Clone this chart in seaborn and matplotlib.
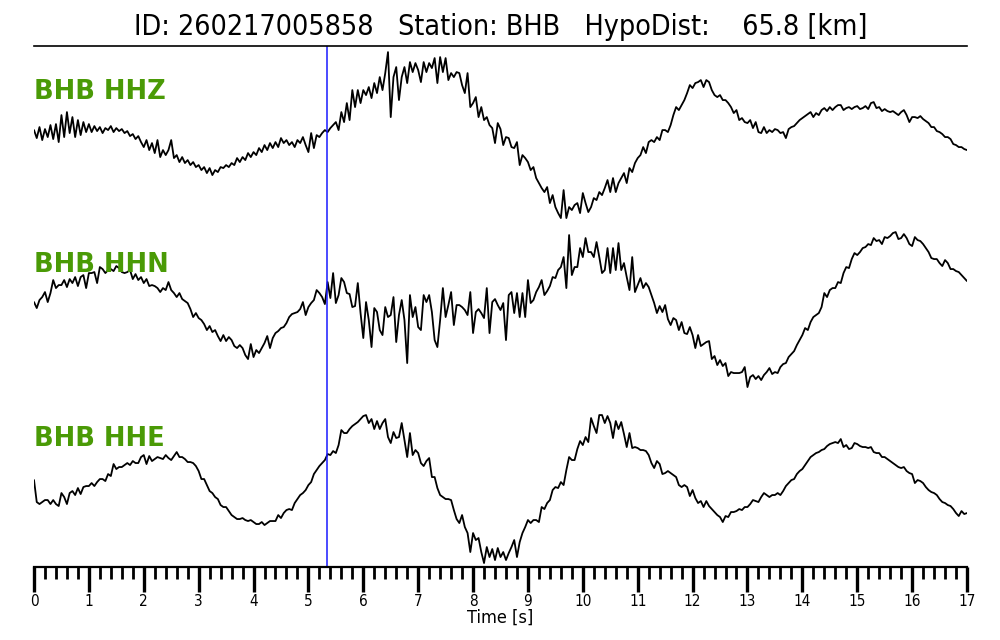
import numpy as np
import pandas as pd
import seaborn as sns
import matplotlib.pyplot as plt
from matplotlib.ticker import MultipleLocator

# waveform samples, dt = 0.05 s, amplitude in plot units
dt = 0.05
hhz = [4, -4, 7, -6, 5, -3, 9, -5, 10, -8,
       19, -3, 22, 1, 17, -3, 14, -1, 12, 2,
       10, 2, 8, 3, 7, 1, 6, 4, 8, 2,
       6, 3, 5, 1, 3, -2, 0, -5, -2, -8,
       -13, -6, -16, -9, -19, -6, -23, -16, -21, -16,
       -6, -24, -21, -28, -23, -29, -26, -31, -28, -33,
       -31, -36, -33, -39, -34, -41, -36, -38, -33, -34,
       -31, -33, -29, -31, -24, -28, -23, -26, -19, -23,
       -18, -21, -14, -18, -11, -16, -9, -14, -8, -13,
       -4, -9, -6, -11, -8, -13, -6, -9, -3, -11,
       -18, 1, -14, -1, -3, 1, 4, 2, 6, 9,
       12, 4, 22, 12, 31, 14, 44, 27, 44, 31,
       44, 39, 47, 36, 51, 41, 57, 44, 61, 82,
       17, 57, 67, 34, 57, 67, 51, 72, 62, 71,
       64, 52, 72, 62, 71, 66, 76, 51, 77, 62,
       76, 54, 61, 57, 62, 61, 49, 41, 61, 27,
       31, 37, 17, 27, 14, 17, 9, 6, -9, 11,
       5, -11, -3, -4, -13, -14, -8, -31, -21, -24,
       -28, -36, -33, -44, -49, -54, -58, -53, -69, -61,
       -73, -79, -84, -56, -84, -73, -76, -71, -69, -79,
       -59, -69, -78, -73, -64, -66, -58, -61, -54, -46,
       -58, -44, -58, -49, -44, -39, -49, -34, -38, -29,
       -24, -21, -13, -19, -8, -6, -8, -3, -6, 4,
       4, 2, 9, 19, 27, 24, 29, 34, 41, 49,
       46, 51, 52, 54, 47, 54, 52, 44, 39, 37,
       39, 34, 34, 31, 27, 21, 24, 14, 16, 12,
       11, 14, 6, 12, 2, 1, 7, 1, 4, 2,
       5, 4, 1, 2, -4, 5, 7, 8, 11, 14,
       16, 18, 20, 22, 17, 21, 19, 24, 26, 23,
       27, 24, 27, 29, 29, 24, 26, 27, 25, 27,
       28, 25, 26, 28, 25, 31, 32, 26, 27, 23,
       25, 23, 22, 23, 21, 19, 22, 24, 19, 12,
       17, 17, 16, 18, 15, 13, 11, 7, 7, 3,
       2, 0, -3, -3, -5, -10, -11, -13, -13, -15,
       -16]
hhn = [9, 3, 11, 14, 19, 9, 18, 31, 23, 26,
       26, 31, 24, 32, 28, 34, 25, 34, 36, 23,
       38, 38, 39, 28, 44, 42, 38, 41, 42, 40,
       45, 43, 39, 38, 39, 41, 32, 37, 31, 34,
       28, 32, 25, 26, 25, 23, 19, 23, 21, 29,
       21, 18, 14, 18, 12, 10, 8, 2, -6, -2,
       -7, -9, -13, -19, -15, -21, -19, -25, -30, -24,
       -30, -26, -29, -35, -37, -34, -37, -44, -48, -33,
       -46, -39, -42, -37, -32, -25, -37, -27, -22, -20,
       -17, -16, -12, -6, -3, -2, -1, 2, 9, -4,
       4, 8, 11, 21, 18, 14, 7, 29, 13, 38,
       8, 16, 33, 29, 18, 17, 4, 5, 28, -2,
       -27, 9, -9, -36, 3, -1, -19, -24, 4, -6,
       -4, 14, -31, -4, 11, -9, -52, 16, -6, 4,
       -16, -19, 16, 9, 16, -1, -29, -36, -9, 23,
       -6, 6, 19, -14, 6, 6, 4, 1, -4, 19,
       -22, -1, 2, -2, -7, 23, -22, 9, 12, 6,
       1, 8, -29, 16, 19, -2, 18, -6, 18, -6,
       31, 8, 11, 19, 24, 31, 16, 20, 25, 34,
       33, 41, 44, 54, 23, 76, 36, 44, 44, 63,
       54, 73, 59, 59, 54, 69, 54, 38, 41, 63,
       38, 63, 41, 68, 41, 48, 34, 21, 54, 19,
       26, 33, 23, 28, 24, 16, 8, -2, 5, -1,
       6, -8, -14, -7, -9, -19, -11, -22, -23, -16,
       -24, -37, -24, -35, -33, -31, -30, -48, -45, -54,
       -49, -55, -52, -65, -61, -62, -62, -62, -61, -56,
       -76, -66, -64, -68, -65, -69, -64, -61, -57, -63,
       -61, -62, -56, -53, -52, -46, -43, -40, -34, -29,
       -24, -17, -19, -11, -6, -4, -2, 4, 18, 14,
       21, 23, 23, 29, 28, 38, 44, 43, 52, 58,
       56, 59, 63, 64, 67, 66, 73, 70, 71, 67,
       74, 73, 75, 78, 79, 72, 73, 77, 73, 67,
       65, 74, 71, 70, 67, 63, 59, 53, 52, 52,
       48, 45, 51, 48, 42, 42, 40, 39, 36, 33,
       30]
hhe = [8, -14, -16, -14, -12, -12, -16, -12, -16, -18,
       -5, -9, -16, -5, -3, -7, 0, -6, 1, 2,
       2, 5, 2, 6, 9, 9, 7, 14, 12, 24,
       19, 21, 21, 23, 25, 23, 27, 25, 25, 31,
       33, 24, 32, 27, 29, 31, 30, 29, 33, 30,
       28, 32, 36, 31, 31, 29, 26, 26, 25, 22,
       17, 9, 9, 3, -3, -5, -9, -11, -17, -19,
       -19, -23, -27, -29, -31, -31, -30, -32, -33, -32,
       -34, -36, -36, -34, -37, -35, -33, -33, -33, -27,
       -30, -25, -22, -21, -22, -15, -11, -7, -5, -2,
       3, 6, 14, 18, 22, 25, 28, 34, 33, 37,
       35, 43, 58, 55, 55, 59, 62, 64, 66, 69,
       72, 73, 65, 69, 59, 67, 59, 65, 69, 51,
       45, 56, 50, 51, 65, 48, 31, 55, 33, 38,
       35, 25, 22, 27, 30, 11, 11, 0, -7, -9,
       -11, -11, -12, -22, -31, -35, -27, -39, -45, -64,
       -45, -52, -50, -64, -75, -59, -69, -61, -72, -60,
       -69, -64, -72, -65, -59, -52, -69, -54, -45, -39,
       -32, -35, -32, -32, -34, -19, -21, -15, -12, -2,
       1, 0, 6, 3, 18, 31, 28, 28, 39, 47,
       43, 51, 46, 70, 62, 55, 73, 73, 65, 72,
       65, 50, 67, 59, 66, 54, 41, 55, 40, 41,
       40, 38, 38, 37, 33, 25, 20, 27, 24, 14,
       15, 17, 15, 13, 11, 3, 1, 3, 1, -8,
       -2, -10, -15, -13, -19, -13, -18, -21, -24, -27,
       -29, -34, -28, -29, -24, -24, -23, -21, -22, -19,
       -19, -16, -12, -13, -14, -9, -5, -7, -9, -7,
       -7, -5, -7, -3, 2, 5, 8, 9, 14, 17,
       19, 23, 27, 31, 33, 35, 36, 38, 39, 42,
       44, 45, 46, 45, 49, 41, 43, 39, 40, 45,
       44, 42, 41, 41, 40, 41, 36, 35, 35, 31,
       31, 29, 27, 25, 23, 21, 20, 21, 17, 15,
       14, 5, 8, 7, 5, 1, -2, -4, -5, -7,
       -11, -14, -15, -17, -18, -21, -25, -28, -23, -26,
       -25]

channels = ["BHB HHZ", "BHB HHN", "BHB HHE"]
offsets = [433, 256, 79]
pick_time = 5.34
title = "ID: 260217005858   Station: BHB   HypoDist:    65.8 [km]"

frames = []
for name, off, amp in zip(channels, offsets, [hhz, hhn, hhe]):
    amp = np.array(amp, dtype=float)
    frames.append(pd.DataFrame({"t": np.arange(len(amp)) * dt,
                                "y": off + amp, "channel": name}))
df = pd.concat(frames, ignore_index=True)

sns.set_style("white")
plt.rcParams["font.family"] = ["DejaVu Sans"]
plt.rcParams["text.color"] = "black"
plt.rcParams["axes.labelcolor"] = "black"
plt.rcParams["xtick.color"] = "black"
plt.rcParams["axes.edgecolor"] = "black"

fig = plt.figure(figsize=(10, 6.4), dpi=100)
ax = fig.add_axes([0.034, 0.114, 0.933, 0.814])

sns.lineplot(data=df, x="t", y="y", units="channel", estimator=None,
             sort=False, color="black", lw=1.3, ax=ax)
ax.axvline(pick_time, color="#1a1aff", lw=1.1)

# label baselines, a little above each trace
label_y = [468, 295, 121]
for name, ly in zip(channels, label_y):
    ax.text(0.0, ly, name, color="#4a9a06", fontsize=18.5,
            fontweight="bold", va="baseline", ha="left", zorder=5)

ax.set_xlim(0, 17)
ax.set_ylim(0, 521)
ax.set_yticks([])
ax.set_ylabel("")
for s in ["left", "right"]:
    ax.spines[s].set_visible(False)
ax.spines["top"].set_linewidth(1.2)
ax.spines["bottom"].set_linewidth(1.6)
ax.xaxis.set_major_locator(MultipleLocator(1))
ax.xaxis.set_minor_locator(MultipleLocator(0.2))
ax.tick_params(axis="x", which="major", direction="out", length=18, width=2.4,
               labelsize=11, pad=1.5, bottom=True)
ax.tick_params(axis="x", which="minor", direction="out", length=8.5, width=2.0,
               bottom=True)
for lab in ax.get_xticklabels():
    lab.set_fontstretch("condensed")
ax.set_xlabel("Time [s]", fontsize=13, labelpad=0, fontstretch="condensed")

fig.text(0.501, 1 - 27 / 640, title, ha="center", va="center", fontsize=20.5,
         fontstretch="condensed")

fig.savefig("out.png", dpi=100)
